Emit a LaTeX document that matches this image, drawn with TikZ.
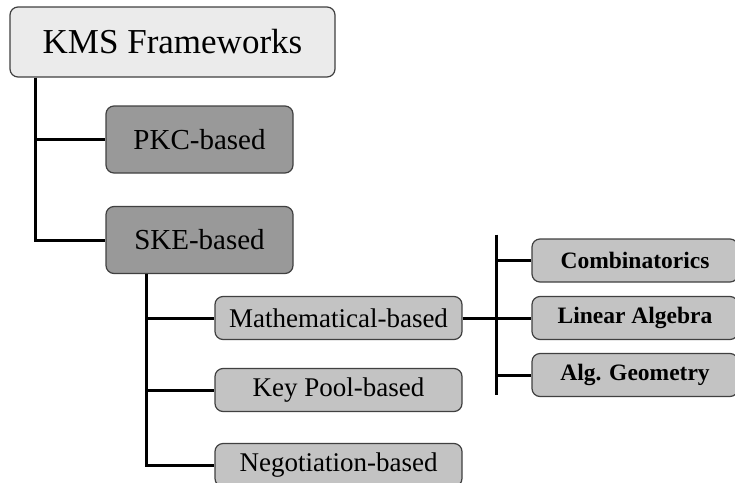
\documentclass[tikz,border=0pt]{standalone}
\usepackage{fontspec}
\setmainfont{Liberation Serif}
\usepackage{xcolor}
\usetikzlibrary{positioning}

\definecolor{rootgray}{HTML}{EBEBEB}
\definecolor{darkgray}{HTML}{999999}
\definecolor{lightgray}{HTML}{C3C3C3}
\definecolor{edgegray}{HTML}{404040}

\tikzset{
  box/.style={draw=edgegray, line width=1.2pt, rounded corners=8pt, inner sep=0pt},
  rootbox/.style={box, fill=rootgray, minimum width=325pt, minimum height=70pt,
    font=\fontsize{35}{42}\selectfont},
  mainbox/.style={box, fill=darkgray, minimum width=187pt, minimum height=67pt,
    font=\fontsize{29}{34}\selectfont},
  subbox/.style={box, fill=lightgray, minimum width=247pt, minimum height=43pt,
    font=\fontsize{27}{32}\selectfont},
  leafbox/.style={box, fill=lightgray, minimum width=206pt, minimum height=43pt,
    font=\fontsize{23.5}{28}\selectfont\bfseries},
  link/.style={line width=3pt}
}

\begin{document}
\begin{tikzpicture}[x=1pt,y=-1pt]
  \useasboundingbox (0,0) rectangle (735,482);

  % tree nodes
  \node[rootbox] (kms) at (172.5,42) {KMS Frameworks};
  \node[mainbox] (pkc) at (199.5,139.5) {PKC-based};
  \node[mainbox] (ske) at (199.5,240) {SKE-based};
  \node[subbox] (math) at (338.5,318) {Mathematical-based};
  \node[subbox] (pool) at (338.5,390) {Key Pool-based};
  \node[subbox] (nego) at (338.5,465) {Negotiation-based};
  \node[leafbox] (comb) at (635,260.5) {Combinatorics};
  \node[leafbox] (linalg) at (635,318) {Linear Algebra};
  \node[leafbox] (geom) at (635,375) {Alg. Geometry};

  % connectors
  \coordinate (kmsdrop) at ([xshift=26pt]kms.south west);
  \coordinate (skedrop) at ([xshift=41pt]ske.south west);
  \coordinate (bus) at ([xshift=34pt]math.east);
  \coordinate (bustop) at ([yshift=26pt]bus |- comb.west);
  \coordinate (busbot) at ([yshift=-20pt]bus |- geom.west);

  \draw[link] (kmsdrop) |- (pkc.west);
  \draw[link] (kmsdrop) |- (ske.west);
  \draw[link] (skedrop) |- (math.west);
  \draw[link] (skedrop) |- (pool.west);
  \draw[link] (skedrop) |- (nego.west);
  \draw[link] (math.east) -- (bus);
  \draw[link] (bustop) -- (busbot);
  \draw[link] (bustop |- comb.west) -- (comb.west);
  \draw[link] (bus) -- (linalg.west);
  \draw[link] (bustop |- geom.west) -- (geom.west);
\end{tikzpicture}
\end{document}
